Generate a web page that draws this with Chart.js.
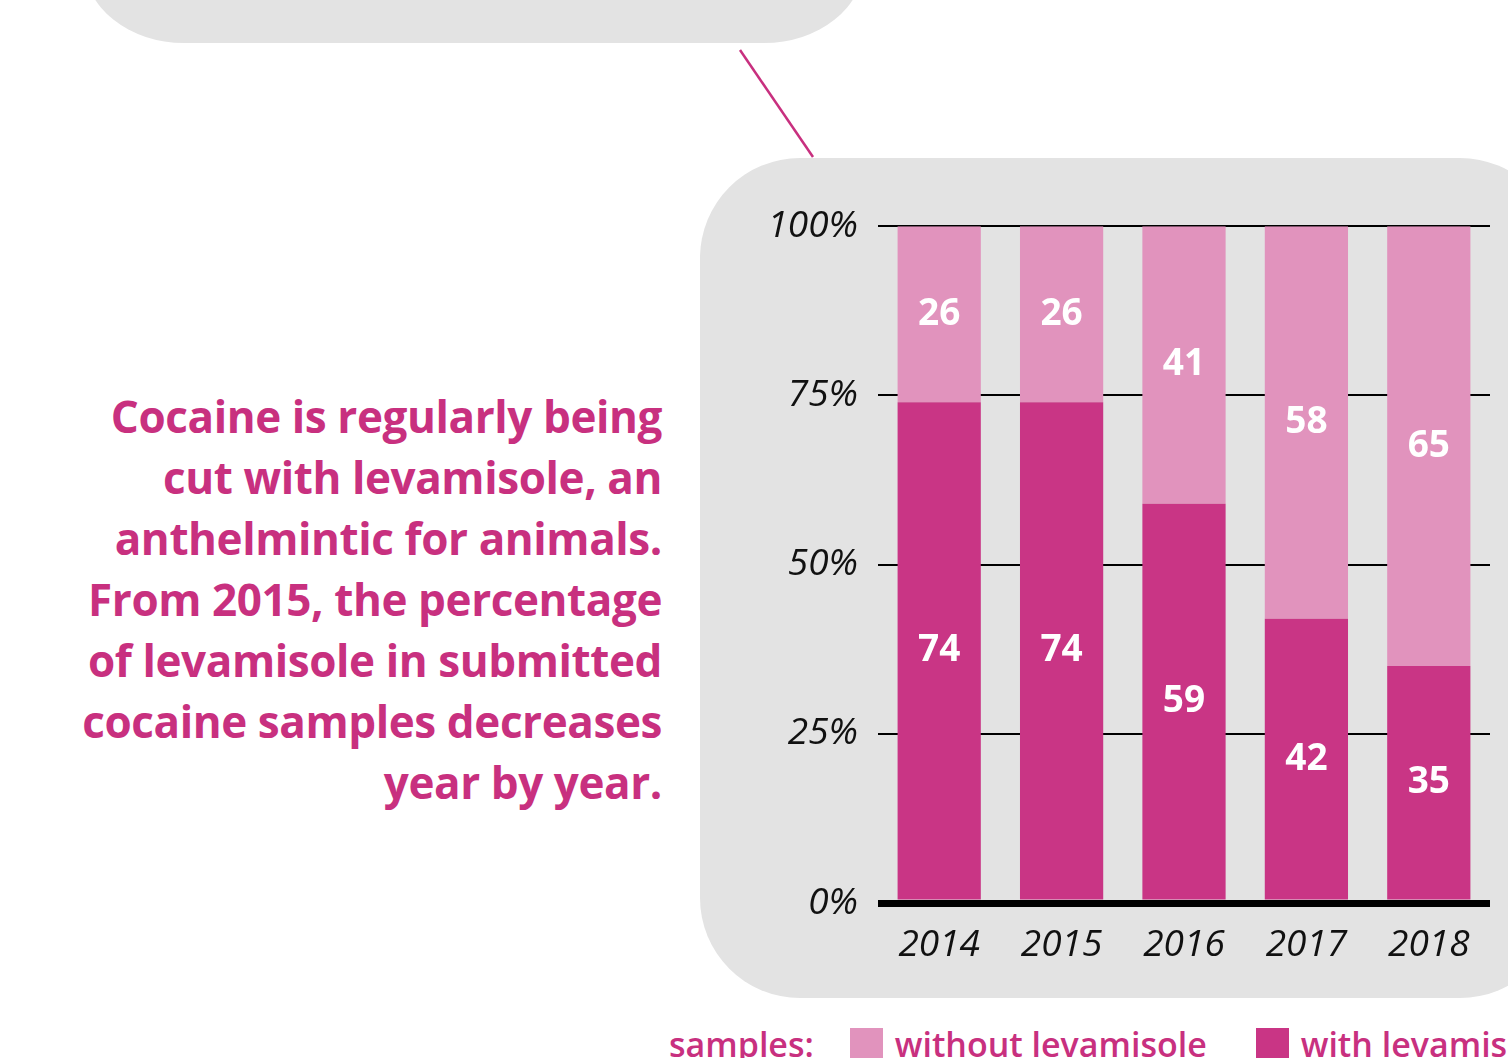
<!DOCTYPE html>
<html>
<head>
<meta charset="utf-8">
<script src="https://cdn.jsdelivr.net/npm/chart.js@4.4.0/dist/chart.umd.min.js"></script>
<style>
  html, body { margin: 0; padding: 0; background: #fff; width: 1508px; height: 1058px; overflow: hidden; position: relative; }
  .bubble-top { position: absolute; left: 84px; top: -60px; width: 780px; height: 103px; background: #e3e3e3;
    border-radius: 0 0 100px 100px / 0 0 80px 80px; }
  .panel { position: absolute; left: 700px; top: 158px; width: 860px; height: 840px; background: #e3e3e3; border-radius: 100px; }
  .intro { position: absolute; right: 846px; top: 386px; width: 700px; text-align: right; color: #c8307f;
    font-family: "Open Sans", sans-serif; font-weight: 700; font-size: 44px; line-height: 61px; letter-spacing: -0.4px; }
  .legend { position: absolute; left: 669px; top: 1020px; white-space: nowrap; color: #c8307f;
    font-family: "Open Sans", sans-serif; font-weight: 600; font-size: 34px; line-height: 48px; }
  .legend span { display: inline-block; vertical-align: top; }
  .sw { width: 33px; height: 40px; margin-top: 8px; margin-right: 12px; }
  #wrap { position: absolute; left: 740px; top: 184px; width: 768px; height: 786px; }
  svg { position: absolute; left: 0; top: 0; }
</style>
</head>
<body>
<div class="bubble-top"></div>
<svg width="1508" height="1058"><line x1="740" y1="50" x2="813" y2="157" stroke="#c8307f" stroke-width="2.5"/></svg>
<div class="panel"></div>
<div class="intro">Cocaine is regularly being<br>cut with levamisole, an<br>anthelmintic for animals.<br>From 2015, the percentage<br>of levamisole in submitted<br>cocaine samples decreases<br>year by year.</div>
<div class="legend">
  <span style="margin-right:27px">samples:</span>
  <span class="sw" style="background:#e193bd"></span><span style="margin-right:40px">without levamisole</span>
  <span class="sw" style="background:#c93585"></span><span>with levamisole</span>
</div>
<div id="wrap"><canvas id="barChart"></canvas></div>
<script>
const years = ['2014', '2015', '2016', '2017', '2018'];
const withLevamisole = [74, 74, 59, 42, 35];
const withoutLevamisole = [26, 26, 41, 58, 65];
const yTicks = [0, 25, 50, 75, 100];

const darkPink = '#c93585';
const lightPink = '#e193bd';

// valores no meio de cada segmento
const valueLabels = {
    id: 'valueLabels',
    afterDatasetsDraw(chart) {
        const ctx = chart.ctx;
        ctx.save();
        ctx.fillStyle = '#fff';
        ctx.font = '700 37px "Open Sans", sans-serif';
        ctx.textAlign = 'center';
        ctx.textBaseline = 'middle';
        chart.data.datasets.forEach((ds, i) => {
            chart.getDatasetMeta(i).data.forEach((bar, j) => {
                const mid = (bar.y + bar.base) / 2;
                ctx.fillText(ds.data[j], bar.x, mid);
            });
        });
        ctx.restore();
    }
};

const ctx = document.getElementById('barChart').getContext('2d');
new Chart(ctx, {
    type: 'bar',
    data: {
        labels: years,
        datasets: [
            { label: 'with levamisole', data: withLevamisole, backgroundColor: darkPink, borderWidth: 0 },
            { label: 'without levamisole', data: withoutLevamisole, backgroundColor: lightPink, borderWidth: 0 }
        ]
    },
    options: {
        responsive: true,
        maintainAspectRatio: false,
        animation: false,
        layout: { padding: { top: 29, right: 18, left: 0, bottom: 0 } },
        datasets: { bar: { barPercentage: 0.68, categoryPercentage: 1 } },
        plugins: { legend: { display: false }, tooltip: { enabled: false } },
        scales: {
            x: {
                stacked: true,
                grid: { display: false },
                border: { display: false },
                ticks: { color: '#111', padding: 12, font: { family: '"Open Sans", sans-serif', style: 'italic', size: 37 } },
                afterFit: s => { s.height = 67; }
            },
            y: {
                stacked: true,
                min: 0,
                max: 100,
                afterBuildTicks: s => { s.ticks = yTicks.map(v => ({ value: v })); },
                grid: {
                    color: '#000',
                    drawTicks: false,
                    lineWidth: c => c.tick && c.tick.value === 0 ? 7 : 2
                },
                border: { display: false },
                ticks: {
                    color: '#111', padding: 20,
                    font: { family: '"Open Sans", sans-serif', style: 'italic', size: 37 },
                    callback: v => v + '%'
                },
                afterFit: s => { s.width = 138; }
            }
        }
    },
    plugins: [valueLabels]
});
</script>
</body>
</html>
